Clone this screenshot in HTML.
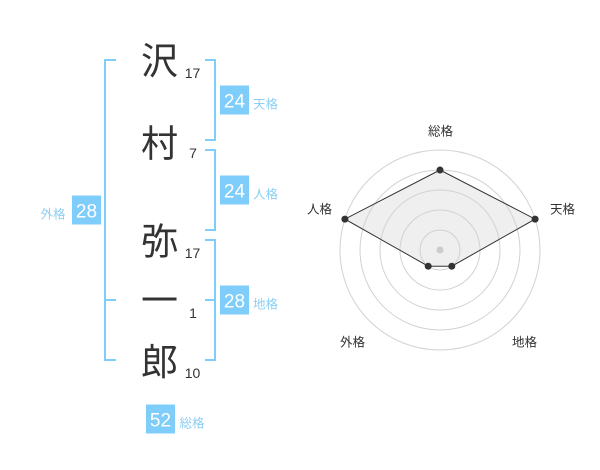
<!DOCTYPE html>
<html>
<head>
<meta charset="utf-8">
<style>
  html, body { margin: 0; padding: 0; background: #ffffff; }
  body { width: 600px; height: 470px; overflow: hidden; }
  svg { display: block; }
  .kanji { font-family: "Liberation Sans", "Noto Sans CJK JP", sans-serif; font-size: 37px; fill: #333333; }
  .num { font-family: "Liberation Sans", "Noto Sans CJK JP", sans-serif; font-size: 14px; fill: #333333; }
  .badge { fill: #7fcdfa; }
  .btxt { font-family: "Liberation Sans", sans-serif; font-size: 19px; fill: #ffffff; }
  .blab { font-family: "Liberation Sans", "Noto Sans CJK JP", sans-serif; font-size: 12.5px; fill: #8ccff3; }
  .rlab { font-family: "Liberation Sans", "Noto Sans CJK JP", sans-serif; font-size: 12.5px; fill: #333333; }
  .br { fill: none; stroke: #7fcdfa; stroke-width: 2; }
  .ring { fill: none; stroke: #d2d2d2; stroke-width: 1; }
</style>
</head>
<body>
<svg width="600" height="470" viewBox="0 0 600 470" xmlns="http://www.w3.org/2000/svg">
  <!-- Name characters -->
  <text class="kanji" x="159.5" y="74" text-anchor="middle">沢</text>
  <text class="kanji" x="159.5" y="156.5" text-anchor="middle">村</text>
  <text class="kanji" x="159.5" y="254.5" text-anchor="middle">弥</text>
  <text class="kanji" x="159.5" y="313.5" text-anchor="middle">一</text>
  <text class="kanji" x="159.5" y="375" text-anchor="middle">郎</text>

  <!-- stroke counts -->
  <text class="num" x="192.5" y="78" text-anchor="middle">17</text>
  <text class="num" x="193" y="158" text-anchor="middle">7</text>
  <text class="num" x="192.5" y="258" text-anchor="middle">17</text>
  <text class="num" x="193" y="318" text-anchor="middle">1</text>
  <text class="num" x="192.5" y="378" text-anchor="middle">10</text>

  <!-- Left bracket (外格) -->
  <path class="br" d="M116 60 H105 V360 H116 M105 300 H116"/>

  <!-- Right brackets -->
  <path class="br" d="M205 60 H215 V140 H205"/>
  <path class="br" d="M205 150 H215 V230 H205"/>
  <path class="br" d="M205 240 H215 V360 H205 M205 300 H215"/>

  <!-- Badges -->
  <rect class="badge" x="220" y="85.5" width="29" height="29"/>
  <text class="btxt" x="234.5" y="107.5" text-anchor="middle">24</text>
  <text class="blab" x="253" y="108.5">天格</text>

  <rect class="badge" x="220" y="175.5" width="29" height="29"/>
  <text class="btxt" x="234.5" y="197.5" text-anchor="middle">24</text>
  <text class="blab" x="253" y="198.5">人格</text>

  <rect class="badge" x="220" y="285.5" width="29" height="29"/>
  <text class="btxt" x="234.5" y="307.5" text-anchor="middle">28</text>
  <text class="blab" x="253" y="308.5">地格</text>

  <rect class="badge" x="72" y="195.5" width="29" height="29"/>
  <text class="btxt" x="86.5" y="217.5" text-anchor="middle">28</text>
  <text class="blab" x="40.5" y="218.5">外格</text>

  <rect class="badge" x="146" y="404.5" width="29" height="29"/>
  <text class="btxt" x="160.5" y="426.5" text-anchor="middle">52</text>
  <text class="blab" x="179.5" y="427.5">総格</text>

  <!-- Radar chart -->
  <polygon points="440,170 535.1,219.1 451.8,266.2 428.2,266.2 344.9,219.1" fill="#efefef" stroke="none"/>
  <circle class="ring" cx="440" cy="250" r="20"/>
  <circle class="ring" cx="440" cy="250" r="40"/>
  <circle class="ring" cx="440" cy="250" r="60"/>
  <circle class="ring" cx="440" cy="250" r="80"/>
  <circle class="ring" cx="440" cy="250" r="100"/>
  <circle cx="440" cy="250" r="3.5" fill="#cccccc"/>
  <polygon points="440,170 535.1,219.1 451.8,266.2 428.2,266.2 344.9,219.1" fill="none" stroke="#333333" stroke-width="1"/>
  <circle cx="440" cy="170" r="3.5" fill="#333333"/>
  <circle cx="535.1" cy="219.1" r="3.5" fill="#333333"/>
  <circle cx="451.8" cy="266.2" r="3.5" fill="#333333"/>
  <circle cx="428.2" cy="266.2" r="3.5" fill="#333333"/>
  <circle cx="344.9" cy="219.1" r="3.5" fill="#333333"/>

  <text class="rlab" x="440.5" y="135.5" text-anchor="middle">総格</text>
  <text class="rlab" x="562.5" y="213.5" text-anchor="middle">天格</text>
  <text class="rlab" x="319.5" y="213.5" text-anchor="middle">人格</text>
  <text class="rlab" x="352.5" y="346.5" text-anchor="middle">外格</text>
  <text class="rlab" x="524.5" y="346.5" text-anchor="middle">地格</text>
</svg>
</body>
</html>
